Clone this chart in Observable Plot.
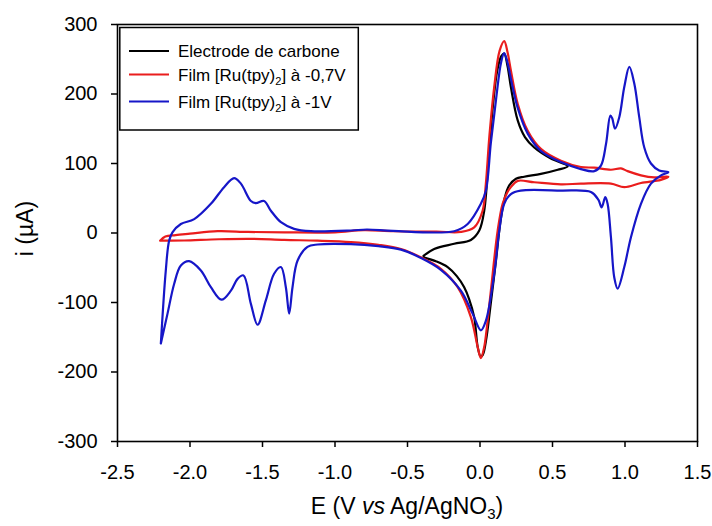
<!DOCTYPE html>
<html>
<head>
<meta charset="utf-8">
<script src="https://cdn.jsdelivr.net/npm/d3@7"></script>
<script src="https://cdn.jsdelivr.net/npm/@observablehq/plot@0.6"></script>
<style>
  html, body { margin: 0; padding: 0; background: white; }
  #chart { width: 712px; height: 526px; }
</style>
</head>
<body>
<div id="chart"></div>
<script>
// ---- Data ----
const seriesNames = ["Electrode de carbone", "Film [Ru(tpy)2] à -0,7V", "Film [Ru(tpy)2] à -1V"];
const seriesColors = ["#000000", "#ea1d1d", "#1616c8"];

const xTicks = [-2.5, -2.0, -1.5, -1.0, -0.5, 0.0, 0.5, 1.0, 1.5];
const yTicks = [-300, -200, -100, 0, 100, 200, 300];

// Electrode de carbone
const blackE = [-0.39, -0.316, -0.178, -0.063, -0.005, 0.029, 0.06, 0.09, 0.12, 0.148, 0.167, 0.19, 0.213, 0.26, 0.31, 0.374, 0.489, 0.605,
  0.536, 0.42, 0.305, 0.248, 0.2, 0.17, 0.14, 0.11, 0.075, 0.045, 0.02, 0.005, -0.015, -0.04, -0.075, -0.109, -0.16, -0.223, -0.3, -0.39];
const blackI = [-33, -23, -15.5, -10, 3.6, 32, 110, 185, 235, 255, 258, 240, 210, 162, 138, 123, 107, 96,
  91, 85, 81, 78, 68, 50, 15, -40, -100, -150, -175, -178, -165, -121, -95, -78, -62, -49, -41, -35];

// Film [Ru(tpy)2] à -0,7V
const redE = [-2.206, -2.17, -2.1, -2.0, -1.81, -1.6, -1.35, -1.0, -0.8, -0.6, -0.3, -0.132, -0.04, 0.018, 0.04, 0.065, 0.098, 0.135, 0.167, 0.19, 0.213, 0.26, 0.329, 0.42, 0.558, 0.696, 0.788, 0.903, 0.972, 1.018, 1.11, 1.202, 1.299,
  1.248, 1.11, 0.995, 0.903, 0.696, 0.558, 0.374, 0.26, 0.213, 0.19, 0.156, 0.122, 0.075, 0.045, 0.029, 0.006, -0.016, -0.063, -0.154, -0.27, -0.407, -0.545, -0.7, -0.89, -1.12, -1.35, -1.58, -1.8, -2.04, -2.15, -2.206];
const redI = [-11, -5, -3, -1, 2.6, 1.5, 1, 1, 4, 2.5, 2, 1.5, 8, 32, 70, 140, 210, 262, 276, 260, 234, 186, 147, 121, 104, 95, 94, 91, 93, 89, 83, 80, 81,
  76.5, 72, 66, 71, 71, 70, 73, 75, 66, 59, 42, 3.6, -83, -140, -164, -180, -164, -121, -78, -51.5, -35, -23, -17, -13, -11, -10, -8.4, -9, -10.8, -11, -11];

// Film [Ru(tpy)2] à -1V
const blueE = [-2.201, -2.167, -2.144, -2.121, -2.063, -1.971, -1.856, -1.765, -1.696, -1.649, -1.58, -1.546, -1.489, -1.442, -1.373, -1.282, -1.166, -0.89, -0.78, -0.6, -0.178, -0.085, 0.006, 0.041, 0.075, 0.11, 0.145, 0.167, 0.19, 0.213, 0.26, 0.329, 0.42, 0.558, 0.696, 0.788, 0.834, 0.869, 0.899, 0.912, 0.931, 0.961, 0.995, 1.03, 1.064, 1.098, 1.133, 1.179, 1.236, 1.299,
  1.248, 1.179, 1.11, 1.041, 0.995, 0.949, 0.926, 0.903, 0.88, 0.864, 0.839, 0.816, 0.765, 0.558, 0.28, 0.213, 0.167, 0.133, 0.098, 0.041, 0.006, -0.051, -0.132, -0.27, -0.407, -0.545, -0.7, -0.89, -1.12, -1.19, -1.258, -1.293, -1.316, -1.339, -1.373, -1.42, -1.477, -1.534, -1.58, -1.631, -1.672, -1.718, -1.783, -1.856, -1.925, -2.006, -2.063, -2.109, -2.155, -2.201];
const blueI = [-159, -54, -11, 1, 13, 20, 42, 66, 79, 71, 46, 43, 46, 32, 15.5, 6, 2.6, 3.6, 5, 3, 2.6, 13, 42, 61, 130, 191, 245, 259, 245, 222, 180, 143, 118, 102, 92, 89, 97, 128, 169, 165, 150, 167, 210, 239, 215, 167, 123, 100, 90, 87.5,
  83, 71, 42, -6, -49, -80, -64, -6, 42, 51.5, 37, 48, 59, 61, 61, 56, 42, 3.6, -59, -126, -140, -116, -83, -53, -36, -24, -19, -16, -16.5, -20, -39.6, -78, -116, -78, -49, -58.7, -97, -132, -102, -61, -66, -83, -96, -78, -54, -40.6, -46.8, -73, -116, -159];

// ---- Build table ----
const table = [];
[[blackE, blackI], [redE, redI], [blueE, blueI]].forEach(([es, is], k) => {
  es.forEach((e, j) => table.push({series: seriesNames[k], E: e, i: is[j]}));
});

const FONT = "'Liberation Sans', Arial, Helvetica, sans-serif";

const chart = Plot.plot({
  width: 712,
  height: 526,
  marginLeft: 117,
  marginRight: 15,
  marginTop: 24,
  marginBottom: 85,
  style: {fontFamily: FONT, fontSize: "20px", background: "white", color: "black", overflow: "visible"},
  x: {domain: [-2.5, 1.5], label: null},
  y: {domain: [-300, 300], label: null},
  color: {domain: seriesNames, range: seriesColors},
  marks: [
    Plot.axisX({ticks: xTicks, tickSize: 6, tickPadding: 17, tickFormat: d => d.toFixed(1), label: null, strokeWidth: 1.5, fontSize: 20}),
    Plot.axisY({ticks: yTicks, tickSize: 6, tickPadding: 14, tickFormat: d => String(d), label: null, strokeWidth: 1.5, fontSize: 20}),
    Plot.line(table, {x: "E", y: "i", z: "series", stroke: "series", curve: "catmull-rom", strokeWidth: 2.2}),
    Plot.frame({stroke: "black", strokeWidth: 1.6})
  ]
});

document.getElementById("chart").appendChild(chart);

// ---- Axis titles and legend (text added to the same SVG) ----
const svg = d3.select(chart);
const xs = chart.scale("x"), ys = chart.scale("y");
const plotLeft = xs.range[0], plotRight = xs.range[1];
const plotTop = ys.range[1], plotBottom = ys.range[0];

const xt = svg.append("text")
  .attr("x", (plotLeft + plotRight) / 2).attr("y", 514)
  .attr("text-anchor", "middle").attr("font-family", FONT).attr("font-size", 23).attr("fill", "black");
xt.append("tspan").text("E (V ");
xt.append("tspan").attr("font-style", "italic").text("vs");
xt.append("tspan").text(" Ag/AgNO");
xt.append("tspan").attr("font-size", 15).attr("dy", 5).text("3");
xt.append("tspan").attr("dy", -5).text(")");

svg.append("text")
  .attr("transform", `translate(33,${(plotTop + plotBottom) / 2 - 4}) rotate(-90)`)
  .attr("text-anchor", "middle").attr("font-family", FONT).attr("font-size", 23).attr("fill", "black")
  .text("i (µA)");

const lg = svg.append("g");
lg.append("rect").attr("x", plotLeft + 2.8).attr("y", plotTop + 3.5).attr("width", 238.5).attr("height", 102.5)
  .attr("fill", "white").attr("stroke", "black").attr("stroke-width", 1.5);
const rowsY = [51, 74.5, 101.5];
const legendLabels = [
  [["Electrode de carbone", null]],
  [["Film [Ru(tpy)", null], ["2", "sub"], ["] à -0,7V", "up"]],
  [["Film [Ru(tpy)", null], ["2", "sub"], ["] à -1V", "up"]]
];
rowsY.forEach((yy, k) => {
  lg.append("line").attr("x1", plotLeft + 12).attr("x2", plotLeft + 52).attr("y1", yy).attr("y2", yy)
    .attr("stroke", seriesColors[k]).attr("stroke-width", 2.2);
  const t = lg.append("text").attr("x", plotLeft + 61).attr("y", yy + 6)
    .attr("text-anchor", "start")
    .attr("font-family", FONT).attr("font-size", 17).attr("fill", "black");
  legendLabels[k].forEach(([s, kind]) => {
    const sp = t.append("tspan").text(s);
    if (kind === "sub") sp.attr("font-size", 11).attr("dy", 4);
    if (kind === "up") sp.attr("dy", -4);
  });
});
</script>
</body>
</html>
